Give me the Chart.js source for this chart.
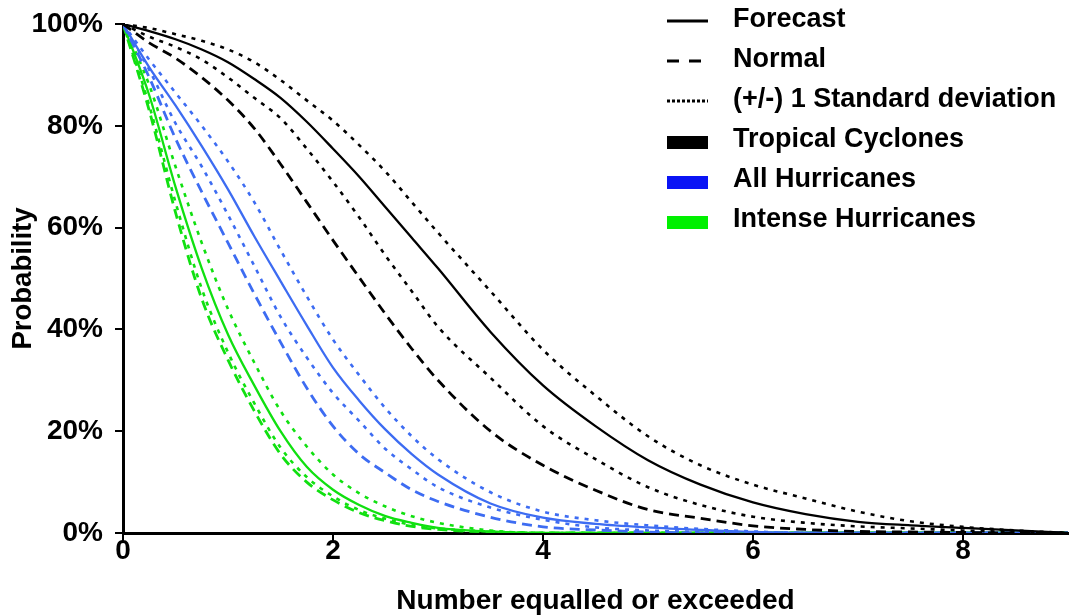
<!DOCTYPE html>
<html>
<head>
<meta charset="utf-8">
<script src="https://cdn.jsdelivr.net/npm/chart.js@4.4.1/dist/chart.umd.min.js"></script>
<style>
  html, body { margin: 0; padding: 0; background: #fff; }
  #wrap { width: 1069px; height: 616px; position: relative; }
</style>
</head>
<body>
<div id="wrap"><canvas id="probChart"></canvas></div>
<script>
// x positions (number equalled or exceeded)
const xValues = [0, 0.25, 0.5, 0.75, 1, 1.25, 1.5, 1.75, 2, 2.25, 2.5, 2.75, 3, 3.5, 4, 4.5, 5, 5.5, 6, 6.5, 7, 7.5, 8, 8.5, 9];

// Tropical cyclones (%)
const tcForecast = [100, 98.6, 97, 95, 92.5, 89.2, 85.5, 80.8, 75.5, 70, 64, 58, 52, 39.5, 29, 21, 14.3, 9.5, 6, 3.7, 2.2, 1.5, 1.0, 0.5, 0];
const tcNormal   = [100, 96.3, 93.3, 89.5, 85, 79.5, 72.5, 65, 57.5, 50.2, 43, 36.2, 30, 20, 13.3, 8.4, 4.6, 2.9, 1.4, 0.7, 0.3, 0.2, 0.1, 0, 0];
const tcSdHigh   = [100, 99.2, 98, 96.7, 95, 92.5, 89, 85, 81, 76.2, 71, 65, 59, 47.5, 36, 27, 19, 13.3, 9.5, 6.8, 4.2, 2.3, 1.2, 0.5, 0];
const tcSdLow    = [100, 97.5, 95.5, 93, 89.5, 85.5, 81.5, 75.5, 69, 62, 54.5, 47.5, 40.5, 30.5, 21, 14.5, 9, 5.5, 3.2, 2, 1.3, 0.9, 0.5, 0.2, 0];

// All hurricanes (%)
const ahForecast = [100, 91.5, 84, 76, 67.5, 58.3, 49.5, 40.8, 32.5, 26, 20.3, 15.5, 11.5, 5.8, 3.0, 1.8, 1.1, 0.6, 0.2, 0, 0, 0, 0, 0, 0];
const ahNormal   = [100, 89.5, 77.5, 67, 57, 47, 37.5, 28.5, 21, 15.5, 11.8, 8.5, 6.2, 3.1, 1.2, 0.6, 0.2, 0, 0, 0, 0, 0, 0, 0, 0];
const ahSdHigh   = [100, 93, 86.5, 80, 73, 65, 55.6, 46.5, 38, 31, 24.5, 19, 14.5, 8, 4.2, 2.5, 1.5, 0.8, 0.3, 0, 0, 0, 0, 0, 0];
const ahSdLow    = [100, 91, 80.5, 72, 62.5, 52.5, 42.5, 34.5, 27.5, 22, 16.5, 12.5, 9, 5, 2.6, 1.1, 0.5, 0.2, 0, 0, 0, 0, 0, 0, 0];

// Intense hurricanes (%)
const ihForecast = [100, 86, 68, 52, 39, 29, 20, 13, 8.5, 5.5, 3.3, 2, 1, 0.3, 0, 0, 0, 0, 0, 0, 0, 0, 0, 0, 0];
const ihNormal   = [100, 83, 63, 46, 34, 24, 15.5, 10, 6.5, 4, 2.4, 1.3, 0.7, 0.2, 0, 0, 0, 0, 0, 0, 0, 0, 0, 0, 0];
const ihSdHigh   = [100, 88, 72, 57, 44, 33.5, 24, 17, 11.5, 7.8, 5.2, 3.3, 2, 0.5, 0, 0, 0, 0, 0, 0, 0, 0, 0, 0, 0];
const ihSdLow    = [100, 84, 65, 48, 35.5, 25.5, 16.8, 11, 7.2, 4.5, 2.8, 1.6, 0.9, 0.3, 0, 0, 0, 0, 0, 0, 0, 0, 0, 0, 0];

const yTicks = [0, 20, 40, 60, 80, 100];
const xTicks = [0, 2, 4, 6, 8];

const legendLabels = ['Forecast', 'Normal', '(+/-) 1 Standard deviation', 'Tropical Cyclones', 'All Hurricanes', 'Intense Hurricanes'];

const BLACK = '#000000';
const BLUE = '#3d6cf2';
const GREEN = '#10e010';
const FONT = '"Liberation Sans", Arial, Helvetica, sans-serif';

const DASH_NORMAL = [10, 6];
const DASH_SD = [4, 6];

function pts(ys) {
  return ys.map((y, i) => ({ x: xValues[i], y: y }));
}

function line(label, ys, color, kind) {
  return {
    label: label,
    data: pts(ys),
    borderColor: color,
    backgroundColor: color,
    borderWidth: kind === 'normal' ? 2.8 : (kind === 'sd' ? 2.6 : 2.3),
    borderDash: kind === 'normal' ? DASH_NORMAL : (kind === 'sd' ? DASH_SD : []),
    pointRadius: 0,
    pointHoverRadius: 0,
    fill: false,
    cubicInterpolationMode: 'monotone',
  };
}

const datasets = [
  line('TC normal', tcNormal, BLACK, 'normal'),
  line('TC -1sd', tcSdLow, BLACK, 'sd'),
  line('TC +1sd', tcSdHigh, BLACK, 'sd'),
  line('TC forecast', tcForecast, BLACK, 'solid'),
  line('AH normal', ahNormal, BLUE, 'normal'),
  line('AH -1sd', ahSdLow, BLUE, 'sd'),
  line('AH +1sd', ahSdHigh, BLUE, 'sd'),
  line('AH forecast', ahForecast, BLUE, 'solid'),
  line('IH normal', ihNormal, GREEN, 'normal'),
  line('IH -1sd', ihSdLow, GREEN, 'sd'),
  line('IH +1sd', ihSdHigh, GREEN, 'sd'),
  line('IH forecast', ihForecast, GREEN, 'solid'),
];

// legend drawn on the canvas, top right
const sideLegend = {
  id: 'sideLegend',
  afterDraw(chart) {
    const ctx = chart.ctx;
    const x0 = 667, x1 = 708, tx = 733;
    const kinds = ['solid', 'normal', 'sd', 'box', 'box', 'box'];
    const colors = [BLACK, BLACK, BLACK, '#000000', '#0a14f5', '#00f000'];
    ctx.save();
    ctx.font = 'bold 27px ' + FONT;
    ctx.textBaseline = 'middle';
    ctx.fillStyle = '#000';
    legendLabels.forEach((txt, i) => {
      const y = 20 + i * 40;
      if (kinds[i] === 'box') {
        ctx.fillStyle = colors[i];
        ctx.fillRect(x0, y - 4, x1 - x0, 13);
      } else {
        ctx.strokeStyle = colors[i];
        ctx.lineWidth = 3;
        ctx.setLineDash(kinds[i] === 'normal' ? [12, 10] : (kinds[i] === 'sd' ? [3, 2] : []));
        ctx.beginPath();
        ctx.moveTo(x0, y + 1);
        ctx.lineTo(x1, y + 1);
        ctx.stroke();
        ctx.setLineDash([]);
      }
      ctx.fillStyle = '#000';
      ctx.fillText(txt, tx, y);
    });
    ctx.restore();
  }
};

new Chart(document.getElementById('probChart'), {
  type: 'line',
  data: { datasets: datasets },
  options: {
    responsive: true,
    maintainAspectRatio: false,
    animation: false,
    layout: { autoPadding: false, padding: { top: 24, right: 1, left: 0, bottom: 0 } },
    plugins: {
      legend: { display: false },
      tooltip: { enabled: false },
    },
    scales: {
      x: {
        type: 'linear',
        min: 0,
        max: 9,
        afterBuildTicks: (scale) => { scale.ticks = xTicks.map(v => ({ value: v })); },
        afterFit: (scale) => { scale.height = 83; },
        ticks: {
          color: '#000',
          font: { family: FONT, size: 28, weight: 'bold' },
          padding: -7,
          maxRotation: 0,
        },
        grid: { drawOnChartArea: false, drawTicks: true, tickLength: 8, color: '#000', lineWidth: 2 },
        border: { color: '#000', width: 3 },
        title: {
          display: true,
          text: 'Number equalled or exceeded',
          color: '#000',
          font: { family: FONT, size: 28, weight: 'bold' },
          padding: { top: 0, bottom: -2 },
        },
      },
      y: {
        min: 0,
        max: 100,
        afterBuildTicks: (scale) => { scale.ticks = yTicks.map(v => ({ value: v })); },
        afterFit: (scale) => {
          scale.width = 123;
          scale.paddingTop = 0;
          scale.paddingBottom = 0;
        },
        ticks: {
          color: '#000',
          font: { family: FONT, size: 28, weight: 'bold' },
          padding: 12,
          callback: (v) => v + '%',
        },
        grid: { drawOnChartArea: false, drawTicks: true, tickLength: 8, color: '#000', lineWidth: 2 },
        border: { color: '#000', width: 3 },
        title: {
          display: true,
          text: 'Probability',
          color: '#000',
          font: { family: FONT, size: 27.5, weight: 'bold' },
          padding: { top: 7, bottom: 0 },
        },
      },
    },
  },
  plugins: [sideLegend],
});
</script>
</body>
</html>
